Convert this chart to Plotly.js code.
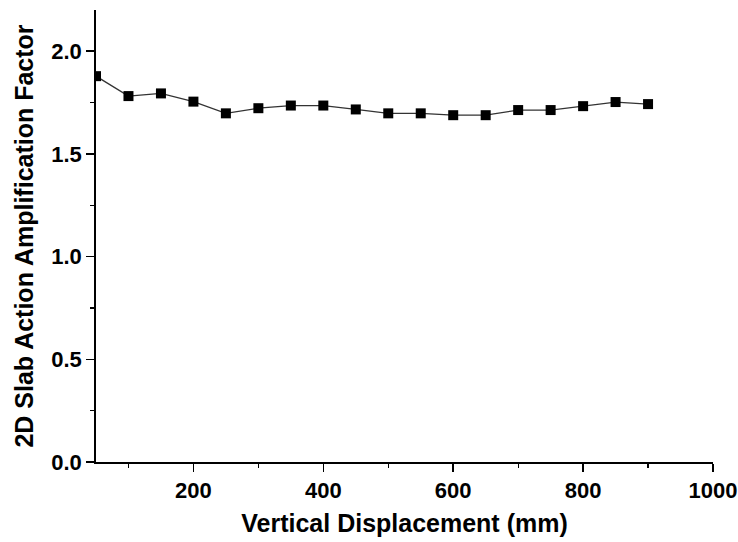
<!DOCTYPE html>
<html>
<head>
<meta charset="utf-8">
<script src="https://cdn.plot.ly/plotly-3.0.1.min.js"></script>
<style>html,body{margin:0;padding:0;background:#fff;}#chart{width:738px;height:542px;}</style>
</head>
<body>
<div id="chart"></div>
<script>
const displacement = [50, 100, 150, 200, 250, 300, 350, 400, 450, 500, 550, 600, 650, 700, 750, 800, 850, 900];
const amplification = [1.878, 1.781, 1.794, 1.754, 1.697, 1.722, 1.735, 1.735, 1.716, 1.697, 1.697, 1.688, 1.688, 1.713, 1.713, 1.732, 1.752, 1.742];
const xTitle = "Vertical Displacement (mm)";
const yTitle = "2D Slab Action Amplification Factor";

const fontFam = "Liberation Sans, Arial, sans-serif";

const trace = {
  x: displacement,
  y: amplification,
  type: "scatter",
  mode: "lines+markers",
  line: {color: "#333", width: 1.3},
  marker: {symbol: "square", size: 10, color: "#000"},
  showlegend: false
};

const layout = {
  width: 738,
  height: 542,
  margin: {l: 96, r: 25, t: 10, b: 80, autoexpand: false},
  paper_bgcolor: "#fff",
  plot_bgcolor: "#fff",
  font: {family: fontFam, color: "#000"},
  xaxis: {
    range: [50, 1000],
    tick0: 0,
    dtick: 200,
    ticks: "outside",
    ticklen: 8,
    tickwidth: 1.5,
    tickcolor: "#000",
    showline: true,
    linecolor: "#000",
    linewidth: 1.8,
    showgrid: false,
    zeroline: false,
    minor: {ticks: "outside", dtick: 100, tick0: 0, ticklen: 4, tickwidth: 1.2, tickcolor: "#000", showgrid: false},
    tickfont: {family: fontFam, size: 22, color: "#000", weight: 700},
    title: {text: "<b>" + xTitle + "</b>", font: {family: fontFam, size: 25, color: "#000"}, standoff: 12}
  },
  yaxis: {
    range: [0, 2.2],
    tick0: 0,
    dtick: 0.5,
    tickformat: ".1f",
    ticks: "outside",
    ticklen: 8,
    tickwidth: 1.5,
    tickcolor: "#000",
    showline: true,
    linecolor: "#000",
    linewidth: 1.8,
    showgrid: false,
    zeroline: false,
    minor: {ticks: "outside", dtick: 0.25, tick0: 0, ticklen: 4, tickwidth: 1.2, tickcolor: "#000", showgrid: false},
    tickfont: {family: fontFam, size: 22, color: "#000", weight: 700},
    title: {text: "<b>" + yTitle + "</b>", font: {family: fontFam, size: 25, color: "#000"}, standoff: 10}
  }
};

Plotly.newPlot("chart", [trace], layout, {displayModeBar: false, staticPlot: true});
</script>
</body>
</html>
